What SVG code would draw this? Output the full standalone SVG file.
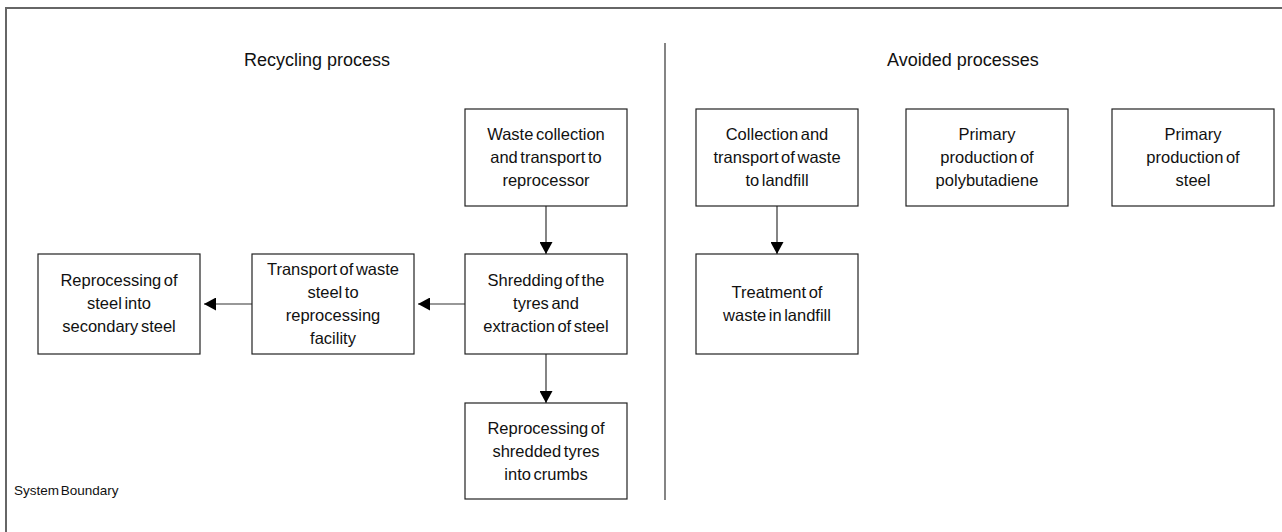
<svg xmlns="http://www.w3.org/2000/svg" width="1282" height="532" viewBox="0 0 1282 532">
<defs>
<style>
.box{fill:#fff;stroke:#222;stroke-width:1.2}
.t{font-family:"Liberation Sans",Arial,sans-serif;font-size:16.5px;fill:#111;text-anchor:middle;word-spacing:-2px}
.title{font-family:"Liberation Sans",Arial,sans-serif;font-size:18px;fill:#111;text-anchor:middle}
.conn{stroke:#333;stroke-width:1.2;fill:none;marker-end:url(#ah)}
</style>
<marker id="ah" markerWidth="13" markerHeight="13" refX="12" refY="6.5" orient="auto" markerUnits="userSpaceOnUse">
<path d="M0,0 L12,6.5 L0,13 Z" fill="#000"/>
</marker>
</defs>
<rect width="1282" height="532" fill="#fff"/>
<rect x="6" y="8" width="1300" height="560" fill="none" stroke="#666" stroke-width="2"/>
<line x1="665" y1="43" x2="665" y2="500" stroke="#333" stroke-width="1.2"/>
<text class="title" x="317" y="66">Recycling process</text>
<text class="title" x="963" y="66">Avoided processes</text>
<text x="14" y="495" font-family="'Liberation Sans',Arial,sans-serif" font-size="13.5" fill="#111" word-spacing="-2">System Boundary</text>
<g id="connectors">
<line class="conn" x1="546" y1="206" x2="546" y2="254"/>
<line class="conn" x1="546" y1="354" x2="546" y2="403"/>
<line class="conn" x1="465" y1="304" x2="418" y2="304"/>
<line class="conn" x1="252" y1="304" x2="204" y2="304"/>
<line class="conn" x1="777" y1="206" x2="777" y2="254"/>
</g>
<g id="waste-collection">
<rect class="box" x="465" y="109" width="162" height="97"/>
<text class="t" x="546" y="140">Waste collection</text>
<text class="t" x="546" y="163">and transport to</text>
<text class="t" x="546" y="186">reprocessor</text>
</g>
<g id="shredding">
<rect class="box" x="465" y="254" width="162" height="100"/>
<text class="t" x="546" y="286">Shredding of the</text>
<text class="t" x="546" y="309">tyres and</text>
<text class="t" x="546" y="332">extraction of steel</text>
</g>
<g id="crumbs">
<rect class="box" x="465" y="403" width="162" height="96"/>
<text class="t" x="546" y="434">Reprocessing of</text>
<text class="t" x="546" y="457">shredded tyres</text>
<text class="t" x="546" y="480">into crumbs</text>
</g>
<g id="transport-steel">
<rect class="box" x="252" y="254" width="162" height="100"/>
<text class="t" x="333" y="275">Transport of waste</text>
<text class="t" x="333" y="298">steel to</text>
<text class="t" x="333" y="321">reprocessing</text>
<text class="t" x="333" y="344">facility</text>
</g>
<g id="reprocess-steel">
<rect class="box" x="38" y="254" width="162" height="100"/>
<text class="t" x="119" y="286">Reprocessing of</text>
<text class="t" x="119" y="309">steel into</text>
<text class="t" x="119" y="332">secondary steel</text>
</g>
<g id="collection-landfill">
<rect class="box" x="696" y="109" width="162" height="97"/>
<text class="t" x="777" y="140">Collection and</text>
<text class="t" x="777" y="163">transport of waste</text>
<text class="t" x="777" y="186">to landfill</text>
</g>
<g id="treatment-landfill">
<rect class="box" x="696" y="254" width="162" height="100"/>
<text class="t" x="777" y="298">Treatment of</text>
<text class="t" x="777" y="321">waste in landfill</text>
</g>
<g id="polybutadiene">
<rect class="box" x="906" y="109" width="162" height="97"/>
<text class="t" x="987" y="140">Primary</text>
<text class="t" x="987" y="163">production of</text>
<text class="t" x="987" y="186">polybutadiene</text>
</g>
<g id="steel">
<rect class="box" x="1112" y="109" width="162" height="97"/>
<text class="t" x="1193" y="140">Primary</text>
<text class="t" x="1193" y="163">production of</text>
<text class="t" x="1193" y="186">steel</text>
</g>
</svg>
